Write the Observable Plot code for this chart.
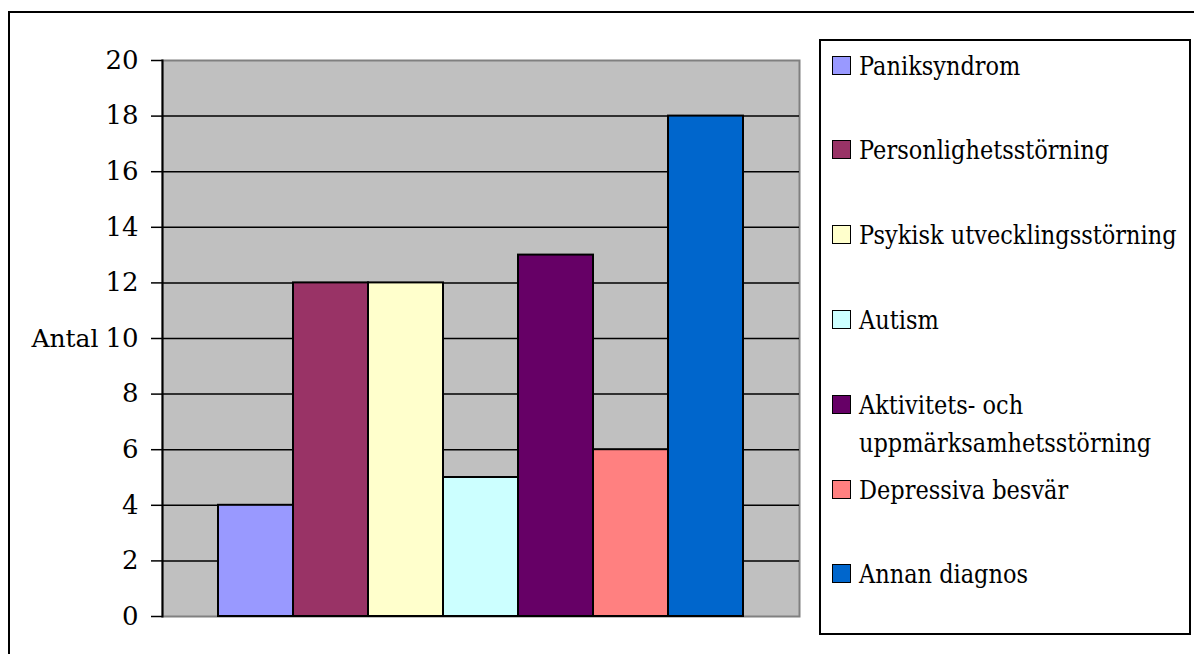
<!DOCTYPE html>
<html>
<head>
<meta charset="utf-8">
<script src="https://cdn.jsdelivr.net/npm/d3@7"></script>
<script src="https://cdn.jsdelivr.net/npm/@observablehq/plot@0.6"></script>
<style>
  html, body { margin: 0; padding: 0; background: #fff; }
  #wrap { position: relative; width: 1194px; height: 654px; overflow: hidden; font-family: "DejaVu Serif", serif; }
  #outer { position: absolute; left: 8px; top: 11px; width: 1300px; height: 800px; border-left: 2px solid #000; border-top: 2px solid #000; }
  #chart { position: absolute; left: 0; top: 0; }
  #legend { position: absolute; left: 819px; top: 39px; width: 368px; height: 592px; border: 2px solid #000; background: #fff; }
  .sw { position: absolute; left: 11px; width: 17px; height: 17px; border: 1.5px solid #000; }
  .lt { position: absolute; left: 38px; font-size: 26px; line-height: 38px; white-space: nowrap; color: #000; transform: scaleX(0.864); transform-origin: 0 50%; }
  svg text { font-family: "DejaVu Serif", serif; }
</style>
</head>
<body>
<div id="wrap">
  <div id="outer"></div>
  <div id="chart"></div>
  <div id="legend"></div>
</div>
<script>
const categories = ["Paniksyndrom", "Personlighetsstörning", "Psykisk utvecklingsstörning", "Autism", "Aktivitets- och uppmärksamhetsstörning", "Depressiva besvär", "Annan diagnos"];
const legendLines = [["Paniksyndrom"], ["Personlighetsstörning"], ["Psykisk utvecklingsstörning"], ["Autism"], ["Aktivitets- och", "uppmärksamhetsstörning"], ["Depressiva besvär"], ["Annan diagnos"]];
const values = [4, 12, 12, 5, 13, 6, 18];
const colors = ["#9999ff", "#993366", "#ffffcc", "#ccffff", "#660066", "#ff8080", "#0066cc"];
const yTicks = [0, 2, 4, 6, 8, 10, 12, 14, 16, 18, 20];
const gridTicks = [2, 4, 6, 8, 10, 12, 14, 16, 18];
const yLabel = "Antal";

const data = categories.map((c, i) => ({cat: c, value: values[i]}));
const serif = "'DejaVu Serif', serif";

const chart = Plot.plot({
  width: 1194,
  height: 654,
  marginLeft: 162,
  marginRight: 395,
  marginTop: 60,
  marginBottom: 38,
  style: {fontFamily: serif, fontSize: "26px", color: "black", background: "transparent", overflow: "visible"},
  x: {domain: categories, paddingInner: 0, paddingOuter: 0.745, axis: null},
  y: {domain: [0, 20], axis: null},
  color: {domain: categories, range: colors},
  marks: [
    Plot.frame({fill: "#c0c0c0", stroke: "#808080", strokeWidth: 2}),
    Plot.ruleY(gridTicks, {stroke: "black", strokeWidth: 1.5}),
    Plot.barY(data, {x: "cat", y: "value", fill: "cat", stroke: "black", strokeWidth: 2}),
    Plot.frame({anchor: "left", stroke: "black", strokeWidth: 2}),
    Plot.axisY({ticks: yTicks, tickSize: 11, tickPadding: 13, stroke: "black", strokeWidth: 1.5, fontSize: 26, fill: "black", label: null}),
    Plot.text([{label: yLabel, v: 10}], {text: "label", y: "v", frameAnchor: "left", textAnchor: "end", dx: -64, fontSize: 25, fill: "black"})
  ]
});
document.getElementById("chart").appendChild(chart);

const legend = document.getElementById("legend");
const rowCenters = [65.5, 150.3, 235.1, 320, 404.8, 489.6, 574.4];
legendLines.forEach((lines, i) => {
  const c = rowCenters[i] - 41;
  const sw = document.createElement("div");
  sw.className = "sw";
  sw.style.background = colors[i];
  sw.style.top = (c - 10) + "px";
  legend.appendChild(sw);
  const t = document.createElement("div");
  t.className = "lt";
  t.style.top = (c - 19) + "px";
  t.innerHTML = lines.join("<br>");
  legend.appendChild(t);
});
</script>
</body>
</html>
